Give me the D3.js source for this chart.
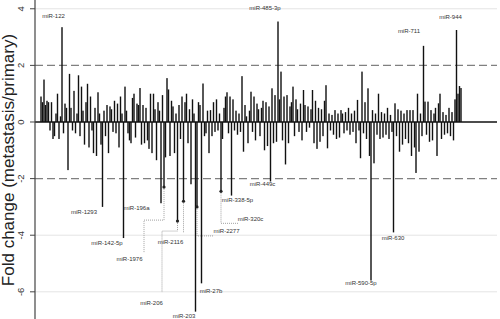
<!DOCTYPE html>
<html lang="en">
  <head>
    <meta charset="UTF-8" />
    <title>miRNA fold change</title>
    <script src="https://d3js.org/d3.v7.min.js"></script>
    <style>
      body { margin: 0; background: #fff; }
    </style>
  </head>
  <body>
    <svg width="500" height="319" id="chart"></svg>

    <script>
      // fold change per miRNA, in plotted order
      const foldChange = [
        0.9, 0.7, 1.5, 0.6, 0.75, 0.7, -0.3, 0.7, -0.6, -0.5, 0.3, 1.0, -0.6, 0.2, 3.35, -0.4, 0.65, 0.5, -1.7, 1.7,
        0.5, -0.3, 1.1, -0.4, 0.3, 1.65, -0.5, 1.25, 0.4, -0.8, 0.7, 1.35, -0.9, 0.9, -0.3, -1.1, 0.5, -1.2, 1.05, 0.3,
        -0.8, -3.0, 0.4, -0.5, 0.6, -1.1, 0.55, 0.45, -0.35, 0.75, -0.4, 0.65, -0.9, 0.9, 0.3, -4.1, 1.25, 0.4, -0.4, -0.65,
        -0.75, 0.85, 1.0, -0.55, 0.65, 0.6, 1.2, -0.8, 0.6, -0.75, 0.5, -0.65, -0.95, 1.0, -1.1, 1.0, 0.45, -1.35, 0.7, 0.4,
        -2.87, 0.95, -2.3, -1.25, 1.55, 1.15, -1.2, 0.75, 0.55, -1.1, 0.3, -3.5, 0.6, -0.6, 0.9, -2.8, 0.7, 1.0, -0.75, 0.45,
        -2.2, 0.8, 0.3, -6.7, -3.0, 0.7, 0.6, -5.7, 1.36, -0.5, -0.4, 0.4, -1.1, 0.42, -0.5, 0.7, -0.35, 0.8, -0.3, 0.3,
        -2.45, -0.6, 0.5, 0.9, 1.05, -0.4, 0.9, -2.6, 0.8, -0.3, 0.4, -0.45, 0.3, -0.35, 1.62, -1.05, 0.6, 0.2, -0.75, 0.4,
        1.07, -0.35, 0.9, -0.65, 0.65, 0.45, -0.5, 0.5, 0.75, -1.0, 0.7, -0.85, 0.55, -2.1, 1.19, -0.75, 0.95, -0.7, 3.55, 0.8,
        1.78, -0.65, 0.9, -1.5, 0.95, -0.75, 0.55, 0.7, 1.25, -0.5, 0.8, 0.45, -0.35, 0.65, -0.65, 1.13, 0.6, -0.35, 0.55, -0.2,
        0.45, 1.13, -0.75, 0.75, -0.95, 0.5, -0.7, 0.45, -0.5, 0.75, 1.3, -0.93, 0.3, -0.3, 0.25, -0.45, 0.42, -0.6, 0.3, -0.55,
        0.42, 0.3, -0.4, 0.35, -0.3, 0.5, -0.45, 0.3, -0.35, 0.4, -0.75, 0.78, -0.3, -1.28, 1.78, -0.4, 0.7, -0.6, 1.19, -1.2,
        -5.6, 0.42, -1.46, 0.3, -0.45, 1.0, -0.6, 0.35, -0.55, 0.3, -0.45, 0.5, -0.6, 0.25, -0.35, -3.9, 0.66, -0.5, 0.45, -1.05,
        0.4, -0.8, 0.3, -0.6, 0.42, -0.75, 0.42, -1.2, 0.42, -0.9, -1.8, 1.0, -1.05, 0.3, -0.5, 2.69, 0.72, -0.45, 0.72, -0.7,
        0.42, -0.65, 0.3, 0.5, -1.2, 0.66, 1.0, -0.6, 0.35, -0.45, 0.25, -0.4, 0.5, -0.5, 0.35, -0.65, 0.8, 3.25, 1.0, 1.27, 1.2
      ];

      // labelled miRNAs and the bar they belong to
      const labelNames = ["miR-122", "miR-485-3p", "miR-711", "miR-944", "miR-1293", "miR-142-5p",
        "miR-196a", "miR-1976", "miR-206", "miR-2116", "miR-2277", "miR-27b", "miR-203",
        "miR-338-5p", "miR-320c", "miR-449c", "miR-590-5p", "miR-630"];
      const labelIndex = [14, 158, 255, 277, 41, 55, 80, 82, 91, 95, 104, 107, 103, 127, 120, 153, 220, 235];
      const dotted = ["miR-1976", "miR-206", "miR-2116", "miR-2277", "miR-320c"];

      const yTicks = [4, 2, 0, -2, -4, -6];
      const gridTicks = [4, -4, -6];
      const dashTicks = [2, -2];

      // label offsets from the end of the bar, and leader elbows (px)
      const place = {
        "miR-122": { dx: -8.5, dy: -9 },
        "miR-485-3p": { dx: -13, dy: -12 },
        "miR-711": { dx: -14.5, dy: -13 },
        "miR-944": { dx: -6, dy: -11 },
        "miR-1293": { dx: -18.5, dy: 7.5 },
        "miR-142-5p": { dx: -16.5, dy: 6.5 },
        "miR-196a": { dx: -24.5, dy: 7 },
        "miR-1976": { dx: -34.5, dy: 74, lead: [[0, 33], [-20, 33], [-20, 66]] },
        "miR-206": { dx: -26, dy: 84, lead: [[0, 10], [-15.5, 10], [-15.5, 71]] },
        "miR-2116": { dx: -13, dy: 43, lead: [[0, 31]] },
        "miR-2277": { dx: 29.5, dy: 26, lead: [[0, 29], [16, 29]] },
        "miR-27b": { dx: 9.5, dy: 10 },
        "miR-203": { dx: -11.5, dy: 6.5 },
        "miR-338-5p": { dx: 6, dy: 6 },
        "miR-320c": { dx: 29.5, dy: 30, lead: [[0, 32], [17, 32]] },
        "miR-449c": { dx: -8, dy: 5 },
        "miR-590-5p": { dx: -10, dy: 4 },
        "miR-630": { dx: -0.5, dy: 8 }
      };

      const svg = d3.select("#chart");
      const axisX = 35, plotRight = 497;

      const x = d3.scaleLinear().domain([0, foldChange.length - 1]).range([41, 461]);
      const y = d3.scaleLinear().domain([-6.96, 4.31]).range([319, 0]);

      // light grid
      svg.append("g").selectAll("line").data(gridTicks).join("line")
        .attr("x1", axisX).attr("x2", plotRight)
        .attr("y1", d => y(d)).attr("y2", d => y(d))
        .attr("stroke", "#e4e4e4").attr("stroke-width", 1);

      // +-2 thresholds
      svg.append("g").selectAll("line").data(dashTicks).join("line")
        .attr("x1", axisX).attr("x2", plotRight)
        .attr("y1", d => y(d)).attr("y2", d => y(d))
        .attr("stroke", "#808080").attr("stroke-width", 1.1)
        .attr("stroke-dasharray", "8,4");

      // bars
      svg.append("g").selectAll("rect").data(foldChange).join("rect")
        .attr("x", (d, i) => x(i) - 0.7)
        .attr("width", 1.4)
        .attr("y", d => Math.min(y(d), y(0)))
        .attr("height", d => Math.abs(y(d) - y(0)))
        .attr("fill", "#111");

      // zero line
      svg.append("line")
        .attr("x1", axisX).attr("x2", plotRight)
        .attr("y1", y(0)).attr("y2", y(0))
        .attr("stroke", "#111").attr("stroke-width", 1.4);

      // annotations
      const ann = svg.append("g");
      labelNames.forEach((name, k) => {
        const i = labelIndex[k];
        const bx = x(i), by = y(foldChange[i]);
        const p = place[name];
        if (p.lead) {
          const pts = [[bx, by]].concat(p.lead.map(q => [bx + q[0], by + q[1]]));
          ann.append("path")
            .attr("d", d3.line()(pts))
            .attr("fill", "none")
            .attr("stroke", "#8a8a8a").attr("stroke-width", 0.8)
            .attr("stroke-dasharray", "1,1");
        }
        if (dotted.includes(name)) {
          ann.append("circle").attr("cx", bx).attr("cy", by).attr("r", 1.6).attr("fill", "#222");
        }
        ann.append("text")
          .attr("x", bx + p.dx).attr("y", by + p.dy)
          .attr("text-anchor", "middle")
          .attr("font-family", "Liberation Sans, Arial, sans-serif")
          .attr("font-size", 6)
          .attr("fill", "#333")
          .text(name);
      });

      // y axis
      const yAxis = svg.append("g").attr("transform", "translate(" + axisX + ",0)");
      yAxis.append("line").attr("x1", 0).attr("x2", 0).attr("y1", 0).attr("y2", 319)
        .attr("stroke", "#444").attr("stroke-width", 1.2);
      yAxis.selectAll(".tk").data(yTicks).join("line")
        .attr("x1", -5).attr("x2", 0)
        .attr("y1", d => y(d)).attr("y2", d => y(d))
        .attr("stroke", "#444").attr("stroke-width", 1);
      yAxis.selectAll("text").data(yTicks).join("text")
        .attr("transform", d => "translate(-11," + y(d) + ") rotate(-90)")
        .attr("text-anchor", "middle")
        .attr("font-family", "Liberation Sans, Arial, sans-serif")
        .attr("font-size", 9.5)
        .attr("fill", "#333")
        .text(d => d);

      svg.append("text")
        .attr("transform", "translate(14,160) rotate(-90)")
        .attr("text-anchor", "middle")
        .attr("font-family", "Liberation Sans, Arial, sans-serif")
        .attr("font-size", 17)
        .attr("fill", "#222")
        .text("Fold change (metastasis/primary)");
    </script>
  </body>
</html>
